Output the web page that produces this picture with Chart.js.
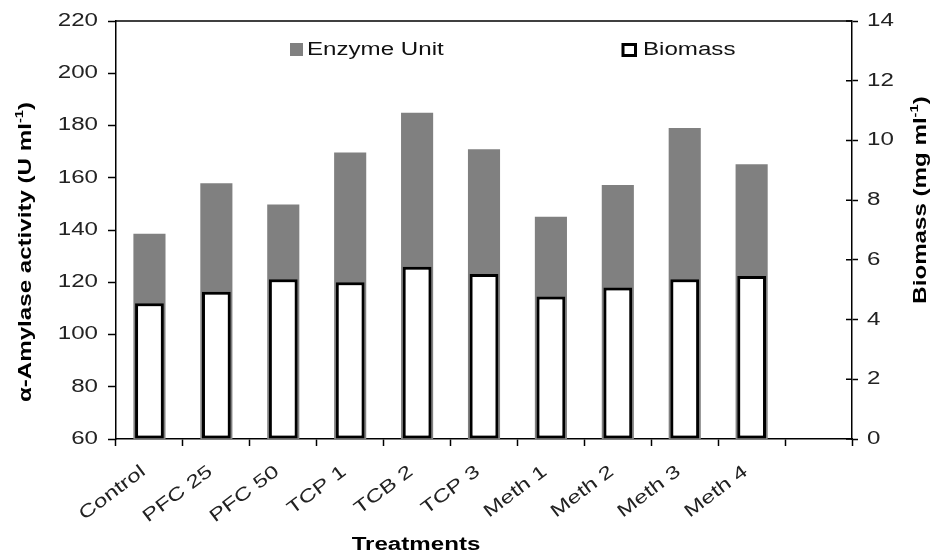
<!DOCTYPE html>
<html>
<head>
<meta charset="utf-8">
<script src="https://cdn.jsdelivr.net/npm/chart.js@4.4.1/dist/chart.umd.min.js"></script>
<style>
  body { margin: 0; background: #fff; }
  #wrap { width: 936px; height: 555px; }
</style>
</head>
<body>
<div id="wrap"><canvas id="chart"></canvas></div>
<script>
// values
const categories = ["Control", "PFC 25", "PFC 50", "TCP 1", "TCB 2", "TCP 3", "Meth 1", "Meth 2", "Meth 3", "Meth 4"];
const enzymeUnits = [138.6, 157.9, 149.8, 169.7, 184.9, 170.9, 145.1, 157.2, 179.0, 165.2];
const biomass = [4.55, 4.93, 5.35, 5.25, 5.77, 5.53, 4.77, 5.07, 5.35, 5.46];
const leftTicks = [60, 80, 100, 120, 140, 160, 180, 200, 220];
const rightTicks = [0, 2, 4, 6, 8, 10, 12, 14];

const FONT = "'Liberation Sans', Arial, sans-serif";
const TEXT_STRETCH = 1.34; // the original figure uses wide (stretched) lettering

// stretch all canvas text along its own direction
(function () {
    const proto = CanvasRenderingContext2D.prototype;
    const fill = proto.fillText;
    const measure = proto.measureText;
    proto.fillText = function (text, x, y) {
        this.save();
        this.translate(x, y);
        this.scale(TEXT_STRETCH, 1);
        fill.call(this, text, 0, 0);
        this.restore();
    };
    proto.measureText = function (text) {
        const m = measure.call(this, text);
        return {
            width: m.width * TEXT_STRETCH,
            actualBoundingBoxLeft: m.actualBoundingBoxLeft * TEXT_STRETCH,
            actualBoundingBoxRight: m.actualBoundingBoxRight * TEXT_STRETCH,
            actualBoundingBoxAscent: m.actualBoundingBoxAscent,
            actualBoundingBoxDescent: m.actualBoundingBoxDescent,
        };
    };
})();

function drawRich(ctx, parts, cx, cy, angle) {
    ctx.save();
    ctx.translate(cx, cy);
    ctx.rotate(angle);
    ctx.textAlign = "left";
    ctx.textBaseline = "middle";
    let total = 0;
    parts.forEach((p) => {
        ctx.font = p.font;
        p.w = ctx.measureText(p.text).width;
        total += p.w;
    });
    let x = -total / 2;
    parts.forEach((p) => {
        ctx.font = p.font;
        ctx.fillText(p.text, x, p.dy || 0);
        x += p.w;
    });
    ctx.restore();
}

const bold = "bold 18px " + FONT;
const sup = "bold 11px " + FONT;

const decorations = {
    id: "decorations",
    afterDraw(chart) {
        const ctx = chart.ctx;
        const area = chart.chartArea;
        const y2 = chart.scales.y2;
        ctx.save();
        ctx.strokeStyle = "#000";
        ctx.lineWidth = 1.5;
        // top frame line
        ctx.beginPath();
        ctx.moveTo(area.left, area.top);
        ctx.lineTo(area.right, area.top);
        ctx.stroke();
        // inner half of the crossing ticks on the right axis
        ctx.beginPath();
        y2.ticks.forEach((t, i) => {
            const py = y2.getPixelForTick(i);
            ctx.moveTo(y2.left - 6, py);
            ctx.lineTo(y2.left, py);
        });
        ctx.stroke();

        // legend inside the plot
        const ds = chart.data.datasets;
        ctx.fillStyle = ds[0].backgroundColor;
        ctx.fillRect(290, 43, 13, 13);
        ctx.lineWidth = 3;
        ctx.strokeStyle = ds[1].borderColor;
        ctx.fillStyle = "#fff";
        ctx.fillRect(623, 44.5, 12.5, 11);
        ctx.strokeRect(623, 44.5, 12.5, 11);
        ctx.fillStyle = "#111";
        ctx.font = "18px " + FONT;
        ctx.textAlign = "left";
        ctx.textBaseline = "middle";
        ctx.fillText(ds[0].label, 307, 50);
        ctx.fillText(ds[1].label, 643, 50);

        // axis titles
        ctx.fillStyle = "#000";
        drawRich(ctx, [
            { text: "\u03b1-Amylase activity (U ml", font: bold },
            { text: "-1", font: sup, dy: -6 },
            { text: ")", font: bold },
        ], 26, 252, -Math.PI / 2);
        drawRich(ctx, [
            { text: "Biomass (mg ml", font: bold },
            { text: "-1", font: sup, dy: -6 },
            { text: ")", font: bold },
        ], 921, 200, -Math.PI / 2);
        drawRich(ctx, [{ text: "Treatments", font: bold }], 416, 545, 0);
        ctx.restore();
    },
};

new Chart(document.getElementById("chart"), {
    type: "bar",
    data: {
        labels: [...categories, ""],
        datasets: [
            {
                label: "Enzyme Unit",
                data: enzymeUnits,
                yAxisID: "y",
                backgroundColor: "#808080",
                barPercentage: 0.48,
                categoryPercentage: 1,
                grouped: false,
                order: 2,
            },
            {
                label: "Biomass",
                data: biomass,
                yAxisID: "y2",
                backgroundColor: "#fff",
                borderColor: "#000",
                borderWidth: 3,
                borderSkipped: false,
                barPercentage: 0.43,
                categoryPercentage: 1,
                grouped: false,
                order: 1,
            },
        ],
    },
    options: {
        responsive: true,
        maintainAspectRatio: false,
        animation: false,
        layout: { padding: { top: 21, left: 0, right: 0, bottom: 0 } },
        plugins: { legend: { display: false }, tooltip: { enabled: false } },
        scales: {
            x: {
                afterFit: (s) => { s.height = 116; },
                border: { color: "#000", width: 1.5 },
                grid: { drawOnChartArea: false, offset: true, tickLength: 7, tickColor: "#000", tickWidth: 1.5 },
                ticks: {
                    autoSkip: false,
                    minRotation: 37,
                    maxRotation: 37,
                    padding: 15,
                    labelOffset: -6,
                    color: "#222",
                    font: { family: FONT, size: 18 },
                },
            },
            y: {
                position: "left",
                min: 60,
                max: 220,
                afterFit: (s) => { s.width = 116; },
                afterBuildTicks: (s) => { s.ticks = leftTicks.map((v) => ({ value: v })); },
                border: { color: "#000", width: 1.5 },
                grid: { drawOnChartArea: false, tickLength: 8, tickColor: "#000", tickWidth: 1.5 },
                ticks: { padding: 10, color: "#222", font: { family: FONT, size: 18 } },
            },
            y2: {
                position: "right",
                min: 0,
                max: 14,
                afterFit: (s) => { s.width = 84; },
                afterBuildTicks: (s) => { s.ticks = rightTicks.map((v) => ({ value: v })); },
                border: { color: "#000", width: 1.5 },
                grid: { drawOnChartArea: false, tickLength: 6, tickColor: "#000", tickWidth: 1.5 },
                ticks: { padding: 9, color: "#222", font: { family: FONT, size: 18 } },
            },
        },
    },
    plugins: [decorations],
});
</script>
</body>
</html>
